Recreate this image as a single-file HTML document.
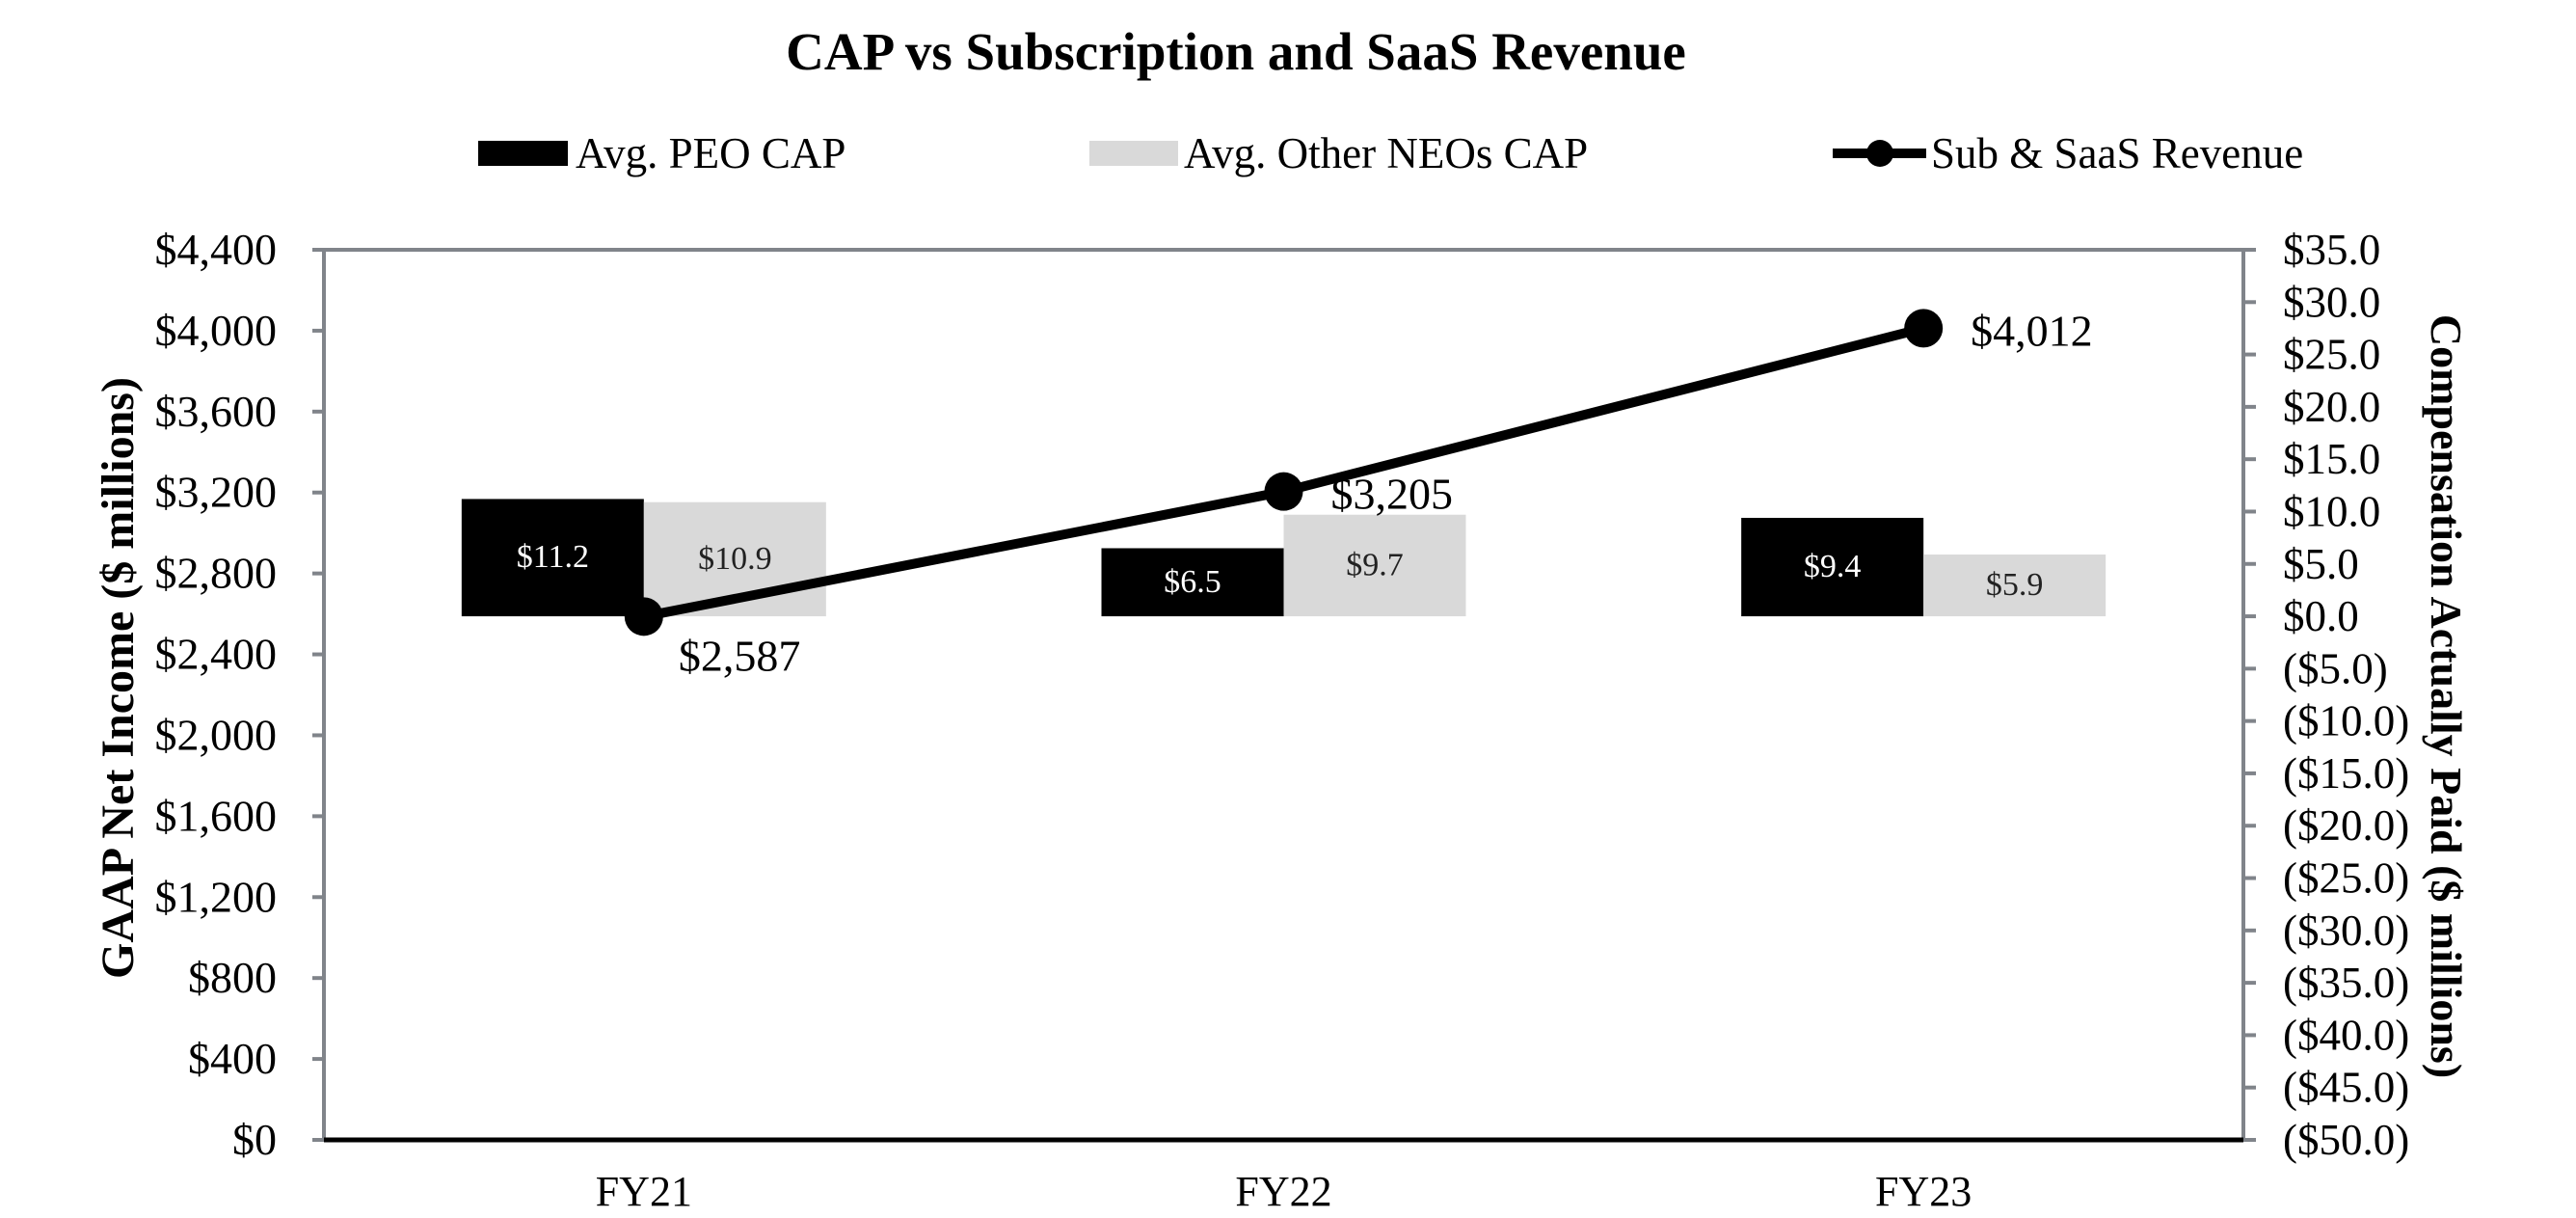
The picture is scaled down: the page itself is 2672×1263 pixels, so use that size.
<!DOCTYPE html>
<html><head><meta charset="utf-8"><style>
html,body{margin:0;padding:0;background:#fff;}
svg{display:block;font-family:"Liberation Serif","DejaVu Serif",serif;}
</style></head><body>
<svg id="chart" width="2672" height="1263" viewBox="0 0 2672 1263" xmlns="http://www.w3.org/2000/svg">
<text x="1282" y="72" text-anchor="middle" font-size="55" font-weight="bold">CAP vs Subscription and SaaS Revenue</text>
<g>
 <rect x="496" y="146" width="93" height="26" fill="#000"/>
 <text x="597" y="174" font-size="45">Avg. PEO CAP</text>
 <rect x="1130" y="146" width="92" height="26" fill="#d9d9d9"/>
 <text x="1228" y="174" font-size="45">Avg. Other NEOs CAP</text>
 <line x1="1901" y1="159" x2="1998" y2="159" stroke="#000" stroke-width="10"/>
 <circle cx="1950" cy="159" r="14" fill="#000"/>
 <text x="2003" y="174" font-size="45">Sub &amp; SaaS Revenue</text>
</g>
<g id="axes"></g>
<g id="marks"></g>
<text transform="translate(138,703) rotate(-90)" text-anchor="middle" font-size="48" font-weight="bold">GAAP Net Income ($ millions)</text>
<text transform="translate(2522,722) rotate(90)" text-anchor="middle" font-size="46" font-weight="bold">Compensation Actually Paid ($ millions)</text>
</svg>
<script>
const categories = ["FY21","FY22","FY23"];
const peoCap = [11.2, 6.5, 9.4];
const neoCap = [10.9, 9.7, 5.9];
const revenue = [2587, 3205, 4012];
const revenueLabels = ["$2,587","$3,205","$4,012"];
const leftTicks = [0,400,800,1200,1600,2000,2400,2800,3200,3600,4000,4400];
const rightTicks = [35,30,25,20,15,10,5,0,-5,-10,-15,-20,-25,-30,-35,-40,-45,-50];

const NS = "http://www.w3.org/2000/svg";
const L = 336, R = 2327, T = 259, B = 1182;
const yL = v => B - (v - 0) / 4400 * (B - T);
const yR = v => B - (v + 50) / 85 * (B - T);
const catW = (R - L) / categories.length;
const xC = i => L + catW * (i + 0.5);
const barW = 189;
function mk(tag, attrs, parent, text) {
  const e = document.createElementNS(NS, tag);
  for (const k in attrs) e.setAttribute(k, attrs[k]);
  if (text !== undefined) e.textContent = text;
  parent.appendChild(e);
  return e;
}
const axes = document.getElementById('axes');
const marks = document.getElementById('marks');
const fmtL = v => "$" + v.toLocaleString("en-US");
const fmtR = v => v < 0 ? "($" + Math.abs(v).toFixed(1) + ")" : "$" + v.toFixed(1);

let e;
e = mk('line', {x1:L, y1:T, x2:R, y2:T, stroke:'#80848a', 'stroke-width':4}, axes);


e = mk('line', {x1:L, y1:T, x2:L, y2:B, stroke:'#80848a', 'stroke-width':4}, axes);


e = mk('line', {x1:R, y1:T, x2:R, y2:B, stroke:'#80848a', 'stroke-width':4}, axes);



leftTicks.forEach(v => {
  const y = yL(v);
  const t = mk('line', {x1:L-12, y1:y, x2:L, y2:y, stroke:'#80848a', 'stroke-width':4}, axes);
  
  
  const tx = mk('text', {x:287, y:y+15, 'text-anchor':'end', 'font-size':46}, axes, fmtL(v));
  
  
});
rightTicks.forEach(v => {
  const y = yR(v);
  const t = mk('line', {x1:R, y1:y, x2:R+13, y2:y, stroke:'#80848a', 'stroke-width':4}, axes);
  
  
  const tx = mk('text', {x:2368, y:y+15, 'font-size':45}, axes, fmtR(v));
  
  
});

categories.forEach((c, i) => {
  const x = xC(i);
  const y0 = yR(0);
  const b1 = mk('rect', {x:x-barW, y:yR(peoCap[i]), width:barW, height:y0-yR(peoCap[i]), fill:'#000'}, marks);
  
  
  const b2 = mk('rect', {x:x, y:yR(neoCap[i]), width:barW, height:y0-yR(neoCap[i]), fill:'#d9d9d9'}, marks);
  
  
  const l1 = mk('text', {x:x-barW/2, y:(yR(peoCap[i])+y0)/2+10, 'text-anchor':'middle', 'font-size':34, fill:'#fff'}, marks, "$" + peoCap[i].toFixed(1));
  
  
  const l2 = mk('text', {x:x+barW/2, y:(yR(neoCap[i])+y0)/2+10, 'text-anchor':'middle', 'font-size':34, fill:'#222'}, marks, "$" + neoCap[i].toFixed(1));
  
  
  const xl = mk('text', {x:x, y:1250, 'text-anchor':'middle', 'font-size':44}, axes, c);
  
  
});

e = mk('line', {x1:L, y1:B, x2:R, y2:B, stroke:'#000', 'stroke-width':5}, axes);



const pts = revenue.map((v, i) => xC(i) + "," + yL(v)).join(" ");
const pl = mk('polyline', {points:pts, fill:'none', stroke:'#000', 'stroke-width':10, 'stroke-linejoin':'round'}, marks);


const offs = [[36,56],[49,18],[49,18]];
revenue.forEach((v, i) => {
  const c = mk('circle', {cx:xC(i), cy:yL(v), r:20, fill:'#000'}, marks);
  
  
  const t = mk('text', {x:xC(i)+offs[i][0], y:yL(v)+offs[i][1], 'font-size':46}, marks, revenueLabels[i]);
  
  
});
</script>
</body></html>
